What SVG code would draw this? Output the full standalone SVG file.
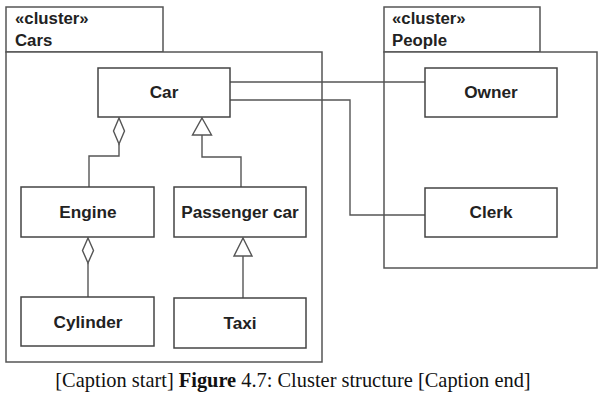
<svg xmlns="http://www.w3.org/2000/svg" width="608" height="408" viewBox="0 0 608 408">
<style>
.pk{fill:#fff;stroke:#555;stroke-width:1.5}
.bx{fill:#fff;stroke:#444;stroke-width:1.5}
.ln{fill:none;stroke:#555;stroke-width:1.4}
.t{font-family:"Liberation Sans",Arial,sans-serif;font-weight:bold;font-size:17.2px;fill:#222;text-anchor:middle}
.pt{font-family:"Liberation Sans",Arial,sans-serif;font-weight:bold;font-size:16.8px;fill:#222}
.cap{font-family:"Liberation Serif","Times New Roman",serif;font-size:20.4px;fill:#111;text-anchor:middle}
</style>
<rect width="608" height="408" fill="#fff"/>
<g id="cluster-cars">
<rect class="pk" x="6" y="7" width="157" height="45"/>
<rect class="pk" x="6" y="52" width="316" height="310"/>
<text class="pt" x="15" y="24">«cluster»</text>
<text class="pt" x="15" y="46">Cars</text>
</g>
<g id="cluster-people">
<rect class="pk" x="384" y="7" width="156" height="45"/>
<rect class="pk" x="384" y="52" width="213" height="216"/>
<text class="pt" x="392" y="24">«cluster»</text>
<text class="pt" x="392" y="46">People</text>
</g>
<g id="connectors">
<polyline class="ln" points="230,82 425,82"/>
<polyline class="ln" points="230,100 350,100 350,215 425,215"/>
<polyline class="ln" points="119,144 119,156 89,156 89,187"/>
<polygon class="ln" points="119,118 124.5,131 119,144 113.5,131"/>
<polyline class="ln" points="202,135 202,157 241,157 241,187"/>
<polygon class="ln" points="202,118 211.5,135 192.5,135"/>
<polyline class="ln" points="88,263 88,297"/>
<polygon class="ln" points="88,238 93.5,250.5 88,263 82.5,250.5"/>
<polyline class="ln" points="243,256 243,298"/>
<polygon class="ln" points="243,238 252,256 234,256"/>
</g>
<g id="car"><rect class="bx" x="98" y="68" width="132" height="49"/><text class="t" x="164" y="98">Car</text></g>
<g id="engine"><rect class="bx" x="21" y="187" width="133" height="50"/><text class="t" x="88" y="218">Engine</text></g>
<g id="passenger-car"><rect class="bx" x="174" y="187" width="132" height="50"/><text class="t" x="240" y="218">Passenger car</text></g>
<g id="cylinder"><rect class="bx" x="21" y="297" width="133" height="49"/><text class="t" x="88" y="328">Cylinder</text></g>
<g id="taxi"><rect class="bx" x="174" y="298" width="132" height="50"/><text class="t" x="240" y="329">Taxi</text></g>
<g id="owner"><rect class="bx" x="425" y="68" width="132" height="49"/><text class="t" x="491" y="98">Owner</text></g>
<g id="clerk"><rect class="bx" x="425" y="188" width="132" height="49"/><text class="t" x="491" y="218">Clerk</text></g>
<text class="cap" x="293" y="387">[Caption start] <tspan font-weight="bold">Figure</tspan> 4.7: Cluster structure [Caption end]</text>
</svg>
